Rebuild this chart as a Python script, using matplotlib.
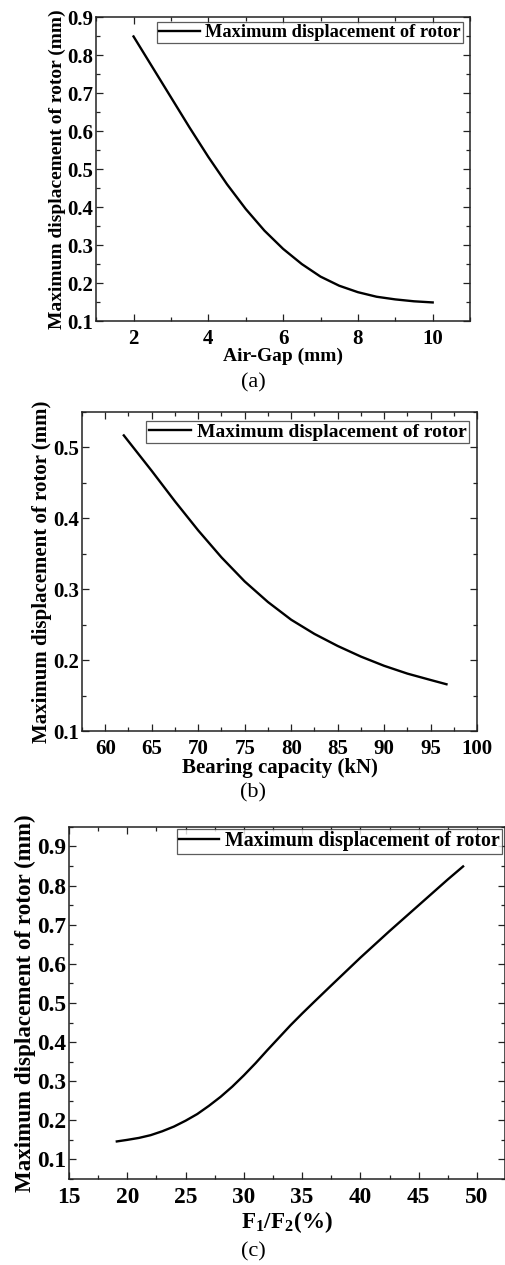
import matplotlib.pyplot as plt
from matplotlib.ticker import MultipleLocator

plt.rcParams['font.family'] = ['Liberation Serif', 'DejaVu Serif']
plt.rcParams['font.weight'] = 'bold'
plt.rcParams['mathtext.fontset'] = 'custom'
plt.rcParams['mathtext.rm'] = 'Liberation Serif:bold'
plt.rcParams['mathtext.bf'] = 'Liberation Serif:bold'

# (a) air gap
gap_mm = [2, 2.5, 3, 3.5, 4, 4.5, 5, 5.5, 6, 6.5, 7, 7.5, 8, 8.5, 9, 9.5, 10]
disp_a = [0.849, 0.769, 0.689, 0.609, 0.532, 0.460, 0.395, 0.338, 0.290, 0.250,
          0.217, 0.193, 0.176, 0.164, 0.157, 0.152, 0.149]

# (b) bearing capacity
capacity_kn = [62, 65, 67.5, 70, 72.5, 75, 77.5, 80, 82.5, 85, 87.5, 90, 92.5, 95, 96.7]
disp_b = [0.517, 0.467, 0.424, 0.383, 0.345, 0.311, 0.282, 0.257, 0.237, 0.220,
          0.205, 0.192, 0.181, 0.172, 0.166]

# (c) F1/F2 ratio
ratio_pct = [19.1, 20, 21, 22, 23, 24, 25, 26, 27, 28, 29, 30, 31, 32, 33, 34, 35, 36,
             37.5, 40, 42.5, 45, 47.5, 48.8]
disp_c = [0.146, 0.150, 0.155, 0.162, 0.172, 0.184, 0.199, 0.216, 0.237, 0.260,
          0.286, 0.315, 0.346, 0.379, 0.411, 0.443, 0.473, 0.502,
          0.545, 0.616, 0.684, 0.750, 0.816, 0.849]

legend_label = 'Maximum displacement of rotor'
ylab = 'Maximum displacement of rotor (mm)'

fig = plt.figure(figsize=(5.06, 12.65), dpi=100)

panels = [
    dict(rect=[0.190, 0.7462, 0.739, 0.2403], x=gap_mm, y=disp_a,
         xlim=(1, 11), ylim=(0.1, 0.9), xmin=1,
         xticks=[2, 4, 6, 8, 10], yticks=[0.1, 0.2, 0.3, 0.4, 0.5, 0.6, 0.7, 0.8, 0.9],
         xlabel='Air-Gap (mm)', tfs=15, fs=14, lfs=13.2, hl=2.2, lp=-1,
         leg=(0.981, 0.984), tag='(a)', tagy=383),
    dict(rect=[0.162, 0.4221, 0.781, 0.2522], x=capacity_kn, y=disp_b,
         xlim=(57.5, 100), ylim=(0.1, 0.55), xmin=2.5,
         xticks=[60, 65, 70, 75, 80, 85, 90, 95, 100], yticks=[0.1, 0.2, 0.3, 0.4, 0.5],
         xlabel='Bearing capacity (kN)', tfs=15, fs=15, lfs=14, hl=2.2, lp=-1,
         leg=(0.980, 0.972), tag='(b)', tagy=793),
    dict(rect=[0.1364, 0.068, 0.8617, 0.2783], x=ratio_pct, y=disp_c,
         xlim=(15, 52.4), ylim=(0.05, 0.95), xmin=2.5,
         xticks=[15, 20, 25, 30, 35, 40, 45, 50], yticks=[0.1, 0.2, 0.3, 0.4, 0.5, 0.6, 0.7, 0.8, 0.9],
         xlabel=r'F$_1$/F$_2$(%)', tfs=16.8, fs=16.6, lfs=14.3, hl=2.0, lp=0.5,
         leg=(0.993, 0.994), tag='(c)', tagy=1252),
]

for p in panels:
    ax = fig.add_axes(p['rect'])
    ax.plot(p['x'], p['y'], color='black', lw=1.7, label=legend_label)
    ax.set_xlim(*p['xlim'])
    ax.set_ylim(*p['ylim'])
    ax.set_xticks(p['xticks'])
    ax.set_yticks(p['yticks'])
    ax.set_xticklabels([str(t) for t in p['xticks']])
    ax.set_yticklabels(['%.1f' % t for t in p['yticks']])
    ax.xaxis.set_minor_locator(MultipleLocator(p['xmin']))
    ax.yaxis.set_minor_locator(MultipleLocator(0.05))
    ax.tick_params(which='both', direction='in', top=True, right=True,
                   labelsize=p['tfs'], width=0.9, colors='#222222', labelcolor='black')
    ax.tick_params(which='major', length=5)
    ax.tick_params(which='minor', length=3)
    ax.tick_params(axis='x', pad=6)
    ax.tick_params(axis='y', pad=2)
    for s in ax.spines.values():
        s.set_linewidth(1.1)
        s.set_color('#222222')
    ax.set_xlabel(p['xlabel'], fontsize=p['fs'], fontweight='bold', labelpad=p['lp'])
    ax.set_ylabel(ylab, fontsize=p['fs'], fontweight='bold', labelpad=1)
    leg = ax.legend(loc='upper right', bbox_to_anchor=p['leg'], borderaxespad=0,
                    frameon=True, fancybox=False, borderpad=0.12,
                    handlelength=p['hl'], handletextpad=0.3,
                    prop={'weight': 'bold', 'size': p['lfs']})
    leg.get_frame().set_edgecolor('#333333')
    leg.get_frame().set_linewidth(0.9)
    fig.text(0.5, 1 - p['tagy'] / 1265, p['tag'], ha='center', va='center',
             fontsize=16, fontweight='normal')

fig.savefig('out.png', dpi=100)
